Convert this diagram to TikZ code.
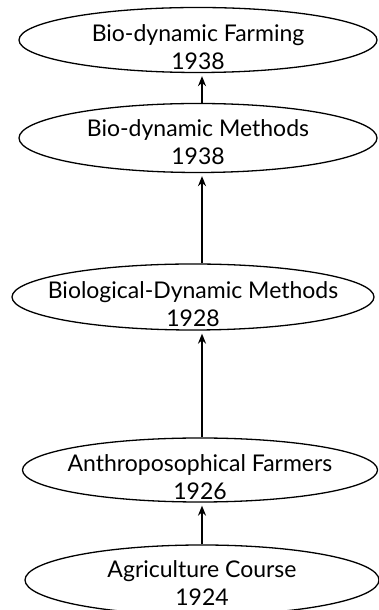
\documentclass[tikz,border=0pt]{standalone}
\usepackage{fontspec}
\setmainfont{Lato}
\usetikzlibrary{shapes.geometric,arrows.meta}
\begin{document}
\begin{tikzpicture}[x=1pt,y=1pt,
  stage/.style={draw=black, line width=1.3pt, ellipse, inner sep=0pt, minimum width=358pt, minimum height=66pt},
  txt/.style={align=center, inner sep=0pt, font=\fontsize{23}{28}\selectfont},
  link/.style={line width=1.6pt, -{Stealth[length=10pt,width=8pt]}, shorten >=3pt}]
\useasboundingbox (0,0) rectangle (378,610);
\coordinate (ax) at (202,0);
\node[stage, minimum height=65pt, label={[txt,yshift=-7pt]center:Bio-dynamic Farming\\1938}] (e1) at (198,570) {};
\node[stage, minimum height=69pt, label={[txt,yshift=-4pt]center:Bio-dynamic Methods\\1938}] (e2) at (198,472) {};
\node[stage, minimum width=362pt, label={[txt,yshift=-7pt]center:Biological-Dynamic Methods\\1928}] (e3) at (193,313) {};
\node[stage, minimum width=355pt, minimum height=64pt, label={[txt,yshift=-7pt]center:Anthroposophical Farmers\\1926}] (e4) at (200,140) {};
\node[stage, minimum width=354pt, minimum height=70pt, label={[txt,yshift=-3pt]center:Agriculture Course\\1924}] (e5) at (202,30) {};
\draw[link] (e2.north -| ax) -- (e1.south -| ax);
\draw[link] (e3.north -| ax) -- (e2.south -| ax);
\draw[link] (e4.north -| ax) -- (e3.south -| ax);
\draw[link] (e5.north -| ax) -- (e4.south -| ax);
\end{tikzpicture}
\end{document}
